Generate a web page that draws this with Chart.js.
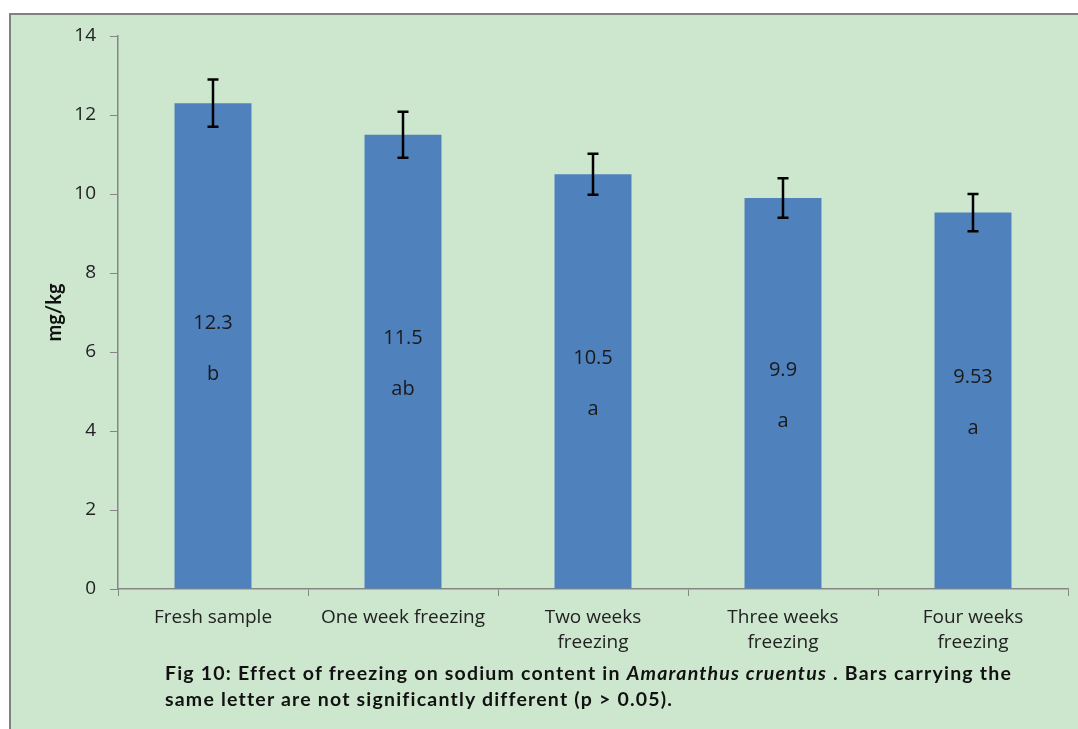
<!DOCTYPE html>
<html>
<head>
<meta charset="utf-8">
<title>Sodium content in Amaranthus cruentus</title>
<script src="https://cdn.jsdelivr.net/npm/chart.js@4.4.1/dist/chart.umd.min.js"></script>
<style>
  html, body { margin: 0; padding: 0; background: #ffffff; }
  #wrap { position: relative; width: 1078px; height: 729px; overflow: hidden; }
  #panel {
    position: absolute; left: 9px; top: 13px; right: -4px; bottom: -4px;
    background: #cde7cf;
    border-left: 2px solid #808080;
    border-top: 2px solid #808080;
  }
  #chart { position: absolute; left: 0; top: 0; }
  #caption {
    position: absolute; left: 165px; top: 660px;
    font-family: Lato, "Open Sans", sans-serif; font-weight: bold;
    font-size: 19.5px; line-height: 26px; letter-spacing: 1.2px; color: #111;
    white-space: nowrap;
  }
</style>
</head>
<body>
<div id="wrap">
  <div id="panel"></div>
  <canvas id="chart" width="1078" height="729"></canvas>
  <div id="caption">Fig 10: Effect of freezing on sodium content in <i>Amaranthus cruentus</i> . Bars carrying the<br>same letter are not significantly different (p &gt; 0.05).</div>
</div>
<script>
// Sodium content (mg/kg) per storage treatment
const categories = [
  ['Fresh sample'],
  ['One week freezing'],
  ['Two weeks', 'freezing'],
  ['Three weeks', 'freezing'],
  ['Four weeks', 'freezing']
];
const sodiumMeans = [12.3, 11.5, 10.5, 9.9, 9.53];
const sodiumErrors = [0.6, 0.58, 0.52, 0.5, 0.47];
const significanceLetters = ['b', 'ab', 'a', 'a', 'a'];
const yTicks = [0, 2, 4, 6, 8, 10, 12, 14];

const axisGray = '#868686';
const textColor = '#222222';
const tickFont = { family: '"Open Sans", sans-serif', size: 19, lineHeight: 1.33 };

// Error bars (mean ± error) drawn through the y scale
const errorBarPlugin = {
  id: 'errorBars',
  afterDatasetsDraw(chart) {
    const { ctx } = chart;
    const y = chart.scales.y;
    const meta = chart.getDatasetMeta(0);
    ctx.save();
    ctx.strokeStyle = '#000000';
    ctx.lineWidth = 2.5;
    meta.data.forEach((bar, i) => {
      const top = y.getPixelForValue(sodiumMeans[i] + sodiumErrors[i]);
      const bot = y.getPixelForValue(sodiumMeans[i] - sodiumErrors[i]);
      ctx.beginPath();
      ctx.moveTo(bar.x, top); ctx.lineTo(bar.x, bot);
      ctx.moveTo(bar.x - 5.5, top); ctx.lineTo(bar.x + 5.5, top);
      ctx.moveTo(bar.x - 5.5, bot); ctx.lineTo(bar.x + 5.5, bot);
      ctx.stroke();
    });
    ctx.restore();
  }
};

// Value and significance letter centred inside each bar
const barLabelPlugin = {
  id: 'barLabels',
  afterDatasetsDraw(chart) {
    const { ctx } = chart;
    const meta = chart.getDatasetMeta(0);
    ctx.save();
    ctx.fillStyle = '#1a1a1a';
    ctx.font = '20px "Open Sans", sans-serif';
    ctx.textAlign = 'center';
    ctx.textBaseline = 'middle';
    meta.data.forEach((bar, i) => {
      const mid = (bar.y + bar.base) / 2;
      ctx.fillText(String(sodiumMeans[i]), bar.x, mid - 23);
      ctx.fillText(significanceLetters[i], bar.x, mid + 28);
    });
    ctx.restore();
  }
};

new Chart(document.getElementById('chart'), {
  type: 'bar',
  data: {
    labels: categories,
    datasets: [{
      data: sodiumMeans,
      backgroundColor: '#4f81bd',
      borderWidth: 0,
      categoryPercentage: 1,
      barPercentage: 0.405
    }]
  },
  options: {
    responsive: false,
    animation: false,
    layout: { padding: { left: 0, right: 10, top: 36, bottom: 0 } },
    plugins: {
      legend: { display: false },
      tooltip: { enabled: false }
    },
    scales: {
      x: {
        afterFit(scale) { scale.height = 140; },
        grid: {
          offset: true,
          drawOnChartArea: false,
          drawTicks: true,
          tickLength: 7,
          color: axisGray,
          lineWidth: 1
        },
        border: { display: true, color: axisGray, width: 1.5 },
        ticks: {
          color: textColor,
          font: tickFont,
          padding: 9,
          maxRotation: 0,
          autoSkip: false
        }
      },
      y: {
        min: 0,
        max: 14,
        afterFit(scale) { scale.width = 118; },
        afterBuildTicks(scale) { scale.ticks = yTicks.map(v => ({ value: v })); },
        grid: {
          drawOnChartArea: false,
          drawTicks: true,
          tickLength: 8,
          color: axisGray,
          lineWidth: 1
        },
        border: { display: true, color: axisGray, width: 1.5 },
        ticks: {
          color: textColor,
          font: { family: '"Open Sans", sans-serif', size: 19 },
          padding: 14
        },
        title: {
          display: true,
          text: 'mg/kg',
          color: '#111111',
          font: { family: 'Lato, "Open Sans", sans-serif', size: 20, weight: 'bold' },
          padding: { top: 43, bottom: 0 }
        }
      }
    }
  },
  plugins: [errorBarPlugin, barLabelPlugin]
});
</script>
</body>
</html>
